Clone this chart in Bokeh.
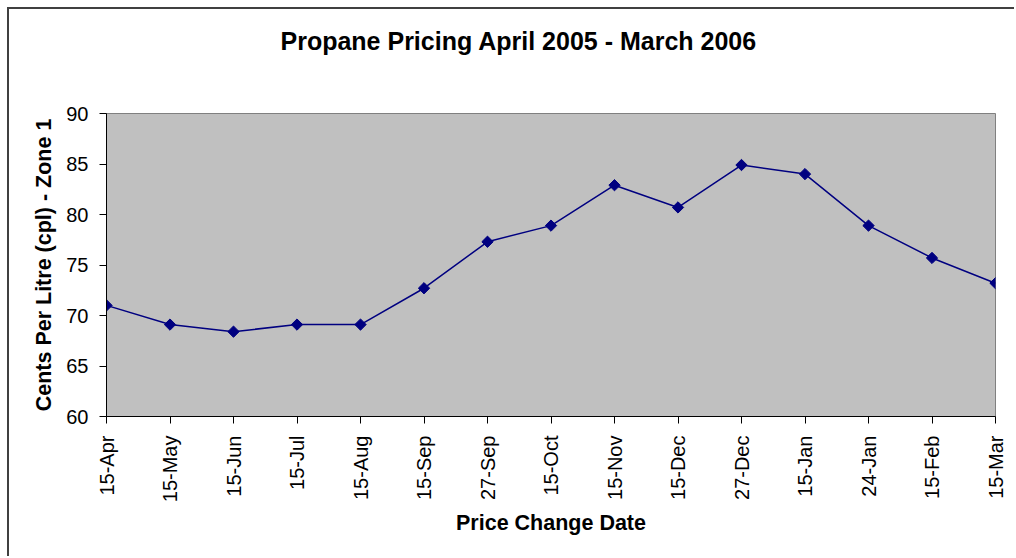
from bokeh.plotting import figure
from bokeh.models import FixedTicker, Range1d, Title
from bokeh.embed import file_html
from bokeh.resources import INLINE
import math

dates = ["15-Apr", "15-May", "15-Jun", "15-Jul", "15-Aug", "15-Sep", "27-Sep", "15-Oct",
         "15-Nov", "15-Dec", "27-Dec", "15-Jan", "24-Jan", "15-Feb", "15-Mar"]
prices = [71.0, 69.1, 68.4, 69.1, 69.1, 72.7, 77.3, 78.9, 82.9, 80.7, 84.9, 84.0, 78.9, 75.7, 73.2]
y_ticks = [60, 65, 70, 75, 80, 85, 90]

FONT = "Liberation Sans"
xs = list(range(len(dates)))

p = figure(width=1007, height=549, output_backend="svg", toolbar_location=None,
           x_range=Range1d(0, len(dates) - 1), y_range=Range1d(60, 90),
           min_border_left=97, min_border_right=21, min_border_top=104, min_border_bottom=142)

p.styles = {"margin-left": "7px", "margin-top": "7px",
            "border-left": "2px solid #404040", "border-top": "2px solid #404040"}

# spacer between frame and title
spacer = Title(text=" ", text_font_size="10px", standoff=31, text_color="#FFFFFF")
p.add_layout(spacer, "above")
t = Title(text="Propane Pricing April 2005 - March 2006", align="left", offset=174,
          text_font=FONT, text_font_size="25px", text_font_style="bold",
          text_color="#000000", standoff=29)
p.add_layout(t, "above")

p.background_fill_color = "#C0C0C0"
p.border_fill_color = "#FFFFFF"
p.outline_line_color = "#808080"
p.outline_line_width = 1
p.xgrid.visible = False
p.ygrid.visible = False

p.line(xs, prices, line_color="#000080", line_width=1.5)
p.scatter(xs, prices, marker="square", angle=math.pi / 4, size=8,
          fill_color="#000080", line_color="#000080")

xa = p.xaxis[0]
xa.ticker = FixedTicker(ticks=xs)
xa.major_label_overrides = {i: d for i, d in enumerate(dates)}
xa.major_label_orientation = math.pi / 2
xa.axis_label = "Price Change Date"
ya = p.yaxis[0]
ya.ticker = FixedTicker(ticks=y_ticks)
ya.axis_label = "Cents Per Litre (cpl) - Zone 1"

for ax in (xa, ya):
    ax.axis_line_color = "#000000"
    ax.axis_line_width = 1
    ax.major_tick_line_color = "#000000"
    ax.major_tick_out = 7
    ax.major_tick_in = 0
    ax.minor_tick_line_color = None
    ax.major_label_text_font = FONT
    ax.major_label_text_font_size = "20px"
    ax.major_label_text_color = "#000000"
    ax.axis_label_text_font = FONT
    ax.axis_label_text_font_size = "21.5px"
    ax.axis_label_text_font_style = "bold"
    ax.axis_label_text_color = "#000000"

xa.major_label_standoff = 12
xa.axis_label_standoff = 6
ya.major_label_standoff = 11
ya.axis_label_standoff = 7

open("out.html", "w").write(file_html(p, INLINE))
